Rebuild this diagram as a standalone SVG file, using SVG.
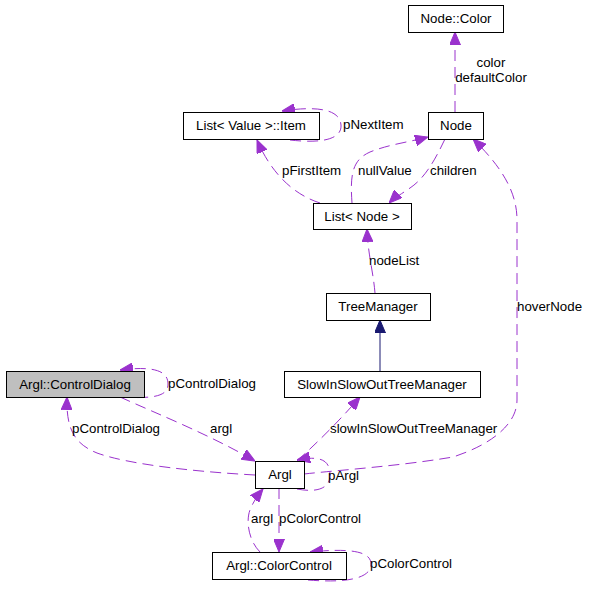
<svg xmlns="http://www.w3.org/2000/svg" width="591" height="592" viewBox="0 0 591 592">
<defs>
<style>
text{font-family:"Liberation Sans",Arial,sans-serif;font-size:13.3px;fill:#000}
.n text{text-anchor:middle}
.n rect{fill:#fff;stroke:#000;stroke-width:1}
#n_cd rect{fill:#bfbfbf}
.e{fill:none;stroke:#9a32cd;stroke-width:1;stroke-dasharray:11,6;marker-end:url(#ap)}
.inh{fill:none;stroke:#191970;stroke-width:1;marker-end:url(#an)}
</style>
<marker id="ap" markerUnits="userSpaceOnUse" markerWidth="13" markerHeight="11" refX="13" refY="5.5" orient="auto" viewBox="0 0 13 11">
<path d="M0,0 L13,5.5 L0,11 z" fill="#9a32cd" stroke="#9a32cd"/>
</marker>
<marker id="an" markerUnits="userSpaceOnUse" markerWidth="13" markerHeight="11" refX="13" refY="5.5" orient="auto" viewBox="0 0 13 11">
<path d="M0,0 L13,5.5 L0,11 z" fill="#191970" stroke="#191970"/>
</marker>
</defs>
<rect width="591" height="592" fill="#fff"/>
<g id="edges">
<path class="e" d="M455,112 L455,32"/>
<path class="e" d="M290,140 C325,144 342,138 341,125 C340,111 322,105 282,111"/>
<path class="e" d="M320,203 C295,195 272,175 257,140"/>
<path class="e" d="M352,203 C350,175 352,160 370,152 C390,144 410,142 428,137"/>
<path class="e" d="M445,139 C435,160 425,178 410,188 C400,195 394,198 389,203"/>
<path class="e" d="M375,293 C373,270 368,255 367,229"/>
<path class="inh" d="M380,371 L380,320"/>
<path class="e" d="M297,461 C320,440 340,420 360,397"/>
<path class="e" d="M304,474 C340,470 400,466 453,457 C490,445 517,425 517,400 L517,220 C517,195 505,170 473,139"/>
<path class="e" d="M120,397 C155,399 168,396 168,384 C168,370 152,366 120,370"/>
<path class="e" d="M120,397 C160,415 210,435 255,461"/>
<path class="e" d="M255,475 C200,472 130,465 97,453 C75,444 66,430 67,397"/>
<path class="e" d="M279,488 L279,552"/>
<path class="e" d="M260,552 C248,540 246,520 250,510 C253,502 258,495 263,489"/>
<path class="e" d="M297,489 C318,493 330,488 330,475 C330,461 322,455 297,460"/>
<path class="e" d="M308,580 C345,583 370,579 371,565 C372,551 350,548 310,552"/>
</g>
<g id="labels">
<text x="491" y="67" text-anchor="middle">color</text>
<text x="491" y="82" text-anchor="middle">defaultColor</text>
<text x="343" y="129">pNextItem</text>
<text x="282" y="175">pFirstItem</text>
<text x="358" y="175">nullValue</text>
<text x="430" y="175">children</text>
<text x="369" y="265">nodeList</text>
<text x="517" y="311">hoverNode</text>
<text x="168" y="388">pControlDialog</text>
<text x="210" y="433">argl</text>
<text x="72" y="433">pControlDialog</text>
<text x="330" y="433">slowInSlowOutTreeManager</text>
<text x="328" y="480">pArgl</text>
<text x="251" y="523">argl</text>
<text x="279" y="523">pColorControl</text>
<text x="370" y="568">pColorControl</text>
</g>
<g id="n_color" class="n"><rect x="408.5" y="5.5" width="95" height="27"/><text x="456" y="23">Node::Color</text></g>
<g id="n_node" class="n"><rect x="428.5" y="112.5" width="55" height="27"/><text x="456" y="130">Node</text></g>
<g id="n_item" class="n"><rect x="183.5" y="112.5" width="136" height="27"/><text x="251" y="130">List&lt; Value &gt;::Item</text></g>
<g id="n_list" class="n"><rect x="313.5" y="203.5" width="98" height="26"/><text x="362" y="221">List&lt; Node &gt;</text></g>
<g id="n_tm" class="n"><rect x="326.5" y="293.5" width="104" height="27"/><text x="378" y="311">TreeManager</text></g>
<g id="n_sio" class="n"><rect x="284.5" y="371.5" width="196" height="26"/><text x="382" y="389">SlowInSlowOutTreeManager</text></g>
<g id="n_cd" class="n"><rect x="6.5" y="371.5" width="138" height="26"/><text x="75" y="389">Argl::ControlDialog</text></g>
<g id="n_argl" class="n"><rect x="255.5" y="461.5" width="49" height="27"/><text x="280" y="479">Argl</text></g>
<g id="n_cc" class="n"><rect x="212.5" y="552.5" width="134" height="27"/><text x="279" y="570">Argl::ColorControl</text></g>
</svg>
